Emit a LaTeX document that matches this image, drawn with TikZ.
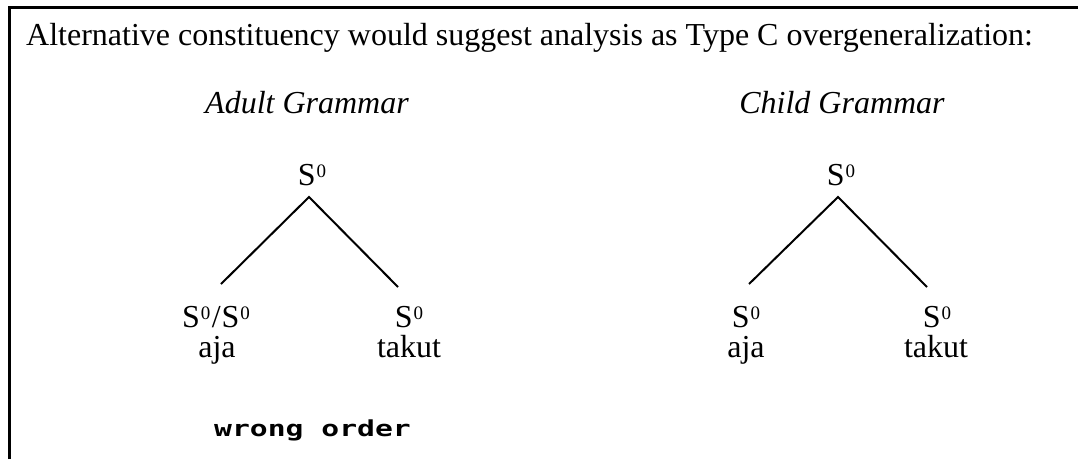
\documentclass[tikz,border=0pt]{standalone}
\usepackage{fontspec}
\setmainfont{Liberation Serif}
\newfontfamily\pixfont{DejaVu Sans Mono}
\newcommand\Szero{S\kern1pt\raisebox{8pt}{\fontsize{19}{19}\selectfont 0}}
\tikzset{
  lbl/.style={inner sep=0pt, anchor=base, font=\fontsize{32}{37}\selectfont},
  ttl/.style={inner sep=0pt, anchor=base west, font=\fontsize{32}{37}\selectfont},
  hd/.style={inner sep=0pt, anchor=base, font=\fontsize{32}{37}\selectfont\itshape},
  branch/.style={line width=2pt},
  frame/.style={line width=3pt}
}
\begin{document}
\begin{tikzpicture}[x=1pt,y=-1pt]
\useasboundingbox (0,0) rectangle (1078,459);
\coordinate (frBL) at (9.5,459);
\coordinate (frTL) at (9.5,7.5);
\coordinate (frTR) at (1078,7.5);
\draw[frame] (frBL) -- (frTL) -- (frTR);

\node[ttl] (title) at (26,45) {Alternative constituency would suggest analysis as Type C overgeneralization:};

\node[hd] (adultH) at (307,113) {Adult Grammar};
\node[hd] (childH) at (842,113) {Child Grammar};

% adult tree
\node[lbl] (aTop) at (312,185) {\Szero};
\node[lbl] (aL) at (216,327) {\Szero\kern1.5pt/\kern1pt\Szero};
\node[lbl] (aLw) at (217,357) {aja};
\node[lbl] (aR) at (409,327) {\Szero};
\node[lbl] (aRw) at (409,357) {takut};
\draw[branch] ([shift={(5,-43)}]aL.base) -- ([shift={(-3,12)}]aTop.base) -- ([shift={(-11,-40)}]aR.base);

% child tree
\node[lbl] (cTop) at (841,185) {\Szero};
\node[lbl] (cL) at (746,327) {\Szero};
\node[lbl] (cLw) at (746,357) {aja};
\node[lbl] (cR) at (937,327) {\Szero};
\node[lbl] (cRw) at (936,357) {takut};
\draw[branch] ([shift={(3,-43)}]cL.base) -- ([shift={(-3,12)}]cTop.base) -- ([shift={(-10,-40)}]cR.base);

\node[inner sep=0pt, anchor=base, transform shape, xscale=1.35, font=\pixfont\bfseries\fontsize{22}{22}\selectfont] (wrong) at (312.5,436) {wrong order};
\end{tikzpicture}
\end{document}
